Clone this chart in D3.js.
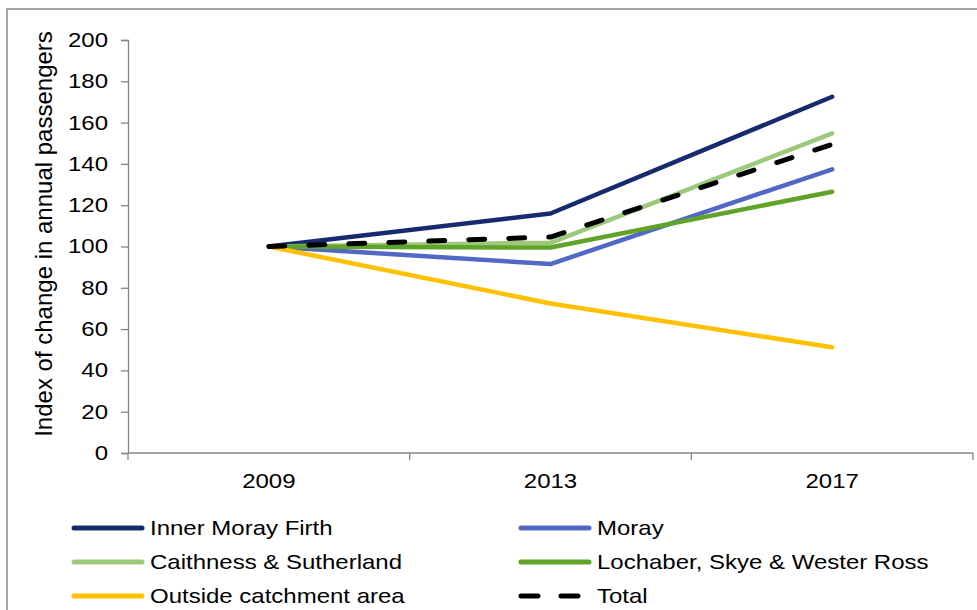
<!DOCTYPE html>
<html><head><meta charset="utf-8">
<script src="https://cdn.jsdelivr.net/npm/d3@7"></script>
<style>
html,body{margin:0;padding:0;background:#fff;}
svg{display:block;font-family:"Liberation Sans",Arial,sans-serif;}
</style></head>
<body>
<svg id="chart" width="977" height="610"></svg>
<script>
const years = ["2009", "2013", "2017"];
const seriesNames = ["Inner Moray Firth", "Moray", "Caithness & Sutherland", "Lochaber, Skye & Wester Ross", "Outside catchment area", "Total"];
const innerMorayFirth = [100, 116, 172.5];
const moray = [100, 91.5, 137.4];
const caithness = [100, 101.8, 154.8];
const lochaber = [100, 99.5, 126.5];
const outside = [100, 72.4, 51.2];
const total = [100, 104.6, 149.5];
const yTicks = [0, 20, 40, 60, 80, 100, 120, 140, 160, 180, 200];
const colors = ["#172A6E", "#5169C4", "#9CC97A", "#5FA328", "#FFC000", "#000000"];
const allValues = [innerMorayFirth, moray, caithness, lochaber, outside, total];

const SX = 1.2; // horizontal text stretch in reference
const svg = d3.select("#chart");

// outer frame
svg.append("rect").attr("x", 7).attr("y", 9).attr("width", 1000).attr("height", 700)
  .attr("fill", "none").attr("stroke", "#8a8a8a").attr("stroke-width", 1.5);

const x = d3.scaleBand().domain(years).range([128, 973]);
const y = d3.scaleLinear().domain([0, 200]).range([453, 40]);

// Y axis
const yAxis = svg.append("g").attr("transform", "translate(128,0)")
  .call(d3.axisLeft(y).tickValues(yTicks).tickSize(7).tickPadding(13));
yAxis.select(".domain").attr("stroke", "#868686").attr("stroke-width", 1.3);
yAxis.selectAll(".tick line").attr("stroke", "#868686").attr("stroke-width", 1.3);
yAxis.selectAll(".tick text").attr("font-size", 20).attr("fill", "#000")
  .attr("font-family", "Liberation Sans, Arial, sans-serif")
  .each(function(){
    const t = d3.select(this);
    const xx = +t.attr("x");
    t.attr("x", xx / SX).attr("transform", `scale(${SX},1)`);
  });

// X axis
const xAxisG = svg.append("g").attr("transform", "translate(0,453)");
xAxisG.append("line").attr("x1", 128).attr("x2", 973).attr("y1", 0).attr("y2", 0)
  .attr("stroke", "#868686").attr("stroke-width", 1.3);
const bounds = years.map(d => x(d)).concat([x(years[years.length-1]) + x.bandwidth()]);
xAxisG.selectAll("line.tk").data(bounds).join("line").attr("class", "tk")
  .attr("x1", d => d).attr("x2", d => d).attr("y1", 0).attr("y2", 7)
  .attr("stroke", "#868686").attr("stroke-width", 1.3);
xAxisG.selectAll("text").data(years).join("text")
  .attr("transform", d => `translate(${x(d) + x.bandwidth()/2},28) scale(${SX},1)`)
  .attr("text-anchor", "middle").attr("dy", "0.35em")
  .attr("font-size", 20).attr("fill", "#000").text(d => d);

// Y label
svg.append("text")
  .attr("transform", `translate(52,234) rotate(-90) scale(1.2,${SX})`)
  .attr("text-anchor", "middle").attr("font-size", 20).attr("fill", "#000")
  .text("Index of change in annual passengers");

// Lines
const line = d3.line().x((d, i) => x(years[i]) + x.bandwidth()/2).y(d => y(d));
allValues.forEach((vals, i) => {
  const p = svg.append("path").datum(vals).attr("d", line)
    .attr("fill", "none").attr("stroke", colors[i]).attr("stroke-width", 4.5)
    .attr("stroke-linecap", "round").attr("stroke-linejoin", "round");
  if (seriesNames[i] === "Total") p.attr("stroke-dasharray", "16,24").attr("stroke-width", 5);
});

// Legend
const legendPos = [[72, 528], [519, 528], [72, 562], [519, 562], [72, 596], [519, 596]];
seriesNames.forEach((name, i) => {
  const [lx, ly] = legendPos[i];
  const g = svg.append("g");
  const l = g.append("line").attr("x1", lx + 2).attr("x2", lx + 70).attr("y1", ly).attr("y2", ly)
    .attr("stroke", colors[i]).attr("stroke-width", 5).attr("stroke-linecap", "round");
  if (name === "Total") l.attr("stroke-dasharray", "17,23");
  g.append("text").attr("transform", `translate(${lx + 78},${ly}) scale(${SX},1)`)
    .attr("dy", "0.35em").attr("font-size", 20).attr("fill", "#000").text(name);
});
</script>
</body></html>
